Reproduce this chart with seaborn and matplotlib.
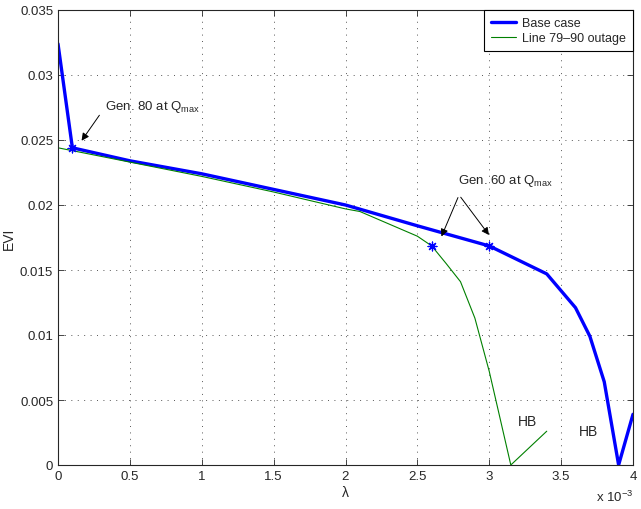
import matplotlib
matplotlib.use("Agg")
import matplotlib.pyplot as plt
import matplotlib.ticker as mticker
import numpy as np
import pandas as pd
import seaborn as sns

sns.set_style("ticks")
plt.rcParams['font.family'] = ['Liberation Sans', 'DejaVu Sans']
plt.rcParams['mathtext.fontset'] = 'custom'
plt.rcParams['mathtext.rm'] = 'Liberation Sans'
plt.rcParams['mathtext.it'] = 'Liberation Sans'

# Base case
base_lam = [0.0, 0.1e-3, 0.5e-3, 1.0e-3, 1.5e-3, 2.0e-3, 2.5e-3, 3.0e-3, 3.4e-3, 3.6e-3, 3.7e-3, 3.8e-3, 3.9e-3, 4.0e-3]
base_evi = [0.0324, 0.0244, 0.0234, 0.0224, 0.0212, 0.0200, 0.0184, 0.01685, 0.0147, 0.0121, 0.0099, 0.0064, 0.0, 0.0039]

# Line 79-90 outage
out_lam = [0.0, 0.5e-3, 1.0e-3, 1.5e-3, 2.0e-3, 2.1e-3, 2.5e-3, 2.6e-3, 2.7e-3, 2.8e-3, 2.9e-3, 3.0e-3, 3.15e-3, 3.4e-3]
out_evi = [0.0244, 0.0233, 0.0222, 0.0210, 0.0197, 0.0195, 0.0176, 0.01685, 0.0155, 0.0141, 0.0113, 0.0072, 0.0, 0.0026]

# Marked points (generator at Qmax)
mark_lam = [0.1e-3, 3.0e-3, 2.6e-3]
mark_evi = [0.0244, 0.01685, 0.01685]

xticks = [0, 0.5e-3, 1.0e-3, 1.5e-3, 2.0e-3, 2.5e-3, 3.0e-3, 3.5e-3, 4.0e-3]
yticks = [0, 0.005, 0.01, 0.015, 0.02, 0.025, 0.03, 0.035]
ytick_labels = ["0", "0.005", "0.01", "0.015", "0.02", "0.025", "0.03", "0.035"]

df_base = pd.DataFrame({"lam": base_lam, "evi": base_evi})
df_out = pd.DataFrame({"lam": out_lam, "evi": out_evi})
df_mark = pd.DataFrame({"lam": mark_lam, "evi": mark_evi})

fig = plt.figure(figsize=(6.41, 5.10), dpi=100)
ax = fig.add_axes([58/641, 44/510, 575/641, 455/510])

sns.lineplot(data=df_base, x="lam", y="evi", sort=False, estimator=None, ax=ax,
             color=(0, 0, 1), linewidth=2.4, label="Base case")
sns.lineplot(data=df_out, x="lam", y="evi", sort=False, estimator=None, ax=ax,
             color=(0, 0.5, 0), linewidth=0.8, label="Line 79\u201390 outage")
sns.scatterplot(data=df_mark, x="lam", y="evi", ax=ax, marker=(8, 2, 0), s=40,
                color=(0, 0, 1), linewidth=0.9, legend=False, zorder=5)

ax.set_xlim(0, 4e-3)
ax.set_ylim(0, 0.035)
ax.set_xticks(xticks)
ax.xaxis.set_major_formatter(mticker.FuncFormatter(lambda v, p: f"{v*1e3:g}"))
ax.set_yticks(yticks)
ax.set_yticklabels(ytick_labels)
ax.tick_params(direction="in", length=4, labelsize=9.5, width=0.6, top=True, right=True)
ax.grid(True, linestyle=(0, (1.2, 6.5)), color="black", linewidth=0.6, alpha=0.75)
for s in ax.spines.values():
    s.set_linewidth(0.8)
    s.set_visible(True)
ax.set_xlabel("\u03bb", fontsize=10, labelpad=2)
ax.set_ylabel("EVI", fontsize=10)
ax.yaxis.set_label_coords(-0.074, 0.5)

ax.text(1.0, -0.052, r"x 10$^{-3}$", transform=ax.transAxes, ha="right", va="top", fontsize=9.5)

# annotations
arrowkw = dict(arrowstyle="-|>", color="black", lw=0.7, mutation_scale=11)
ax.annotate("", xy=(0.153e-3, 0.02477), xytext=(0.299e-3, 0.02708), arrowprops=arrowkw)
ax.text(0.327e-3, 0.02762, r"Gen. 80 at Q$_{\mathrm{max}}$", fontsize=9.5, va="center", ha="left")
ax.annotate("", xy=(2.66e-3, 0.01738), xytext=(2.79e-3, 0.02077), arrowprops=arrowkw)
ax.annotate("", xy=(3.01e-3, 0.01752), xytext=(2.79e-3, 0.02077), arrowprops=arrowkw)
ax.text(2.78e-3, 0.02195, r"Gen. 60 at Q$_{\mathrm{max}}$", fontsize=9.5, va="center", ha="left")
ax.text(3.2e-3, 0.00336, "HB", fontsize=10, va="center", ha="left")
ax.text(3.626e-3, 0.00264, "HB", fontsize=10, va="center", ha="left")

leg = ax.legend(loc="upper right", fontsize=9, frameon=True, fancybox=False,
                edgecolor="black", framealpha=1, borderaxespad=0, handlelength=2.0,
                borderpad=0.55, labelspacing=0.25, handletextpad=0.5)
leg.get_frame().set_linewidth(0.8)

fig.savefig("out.png", dpi=100)
